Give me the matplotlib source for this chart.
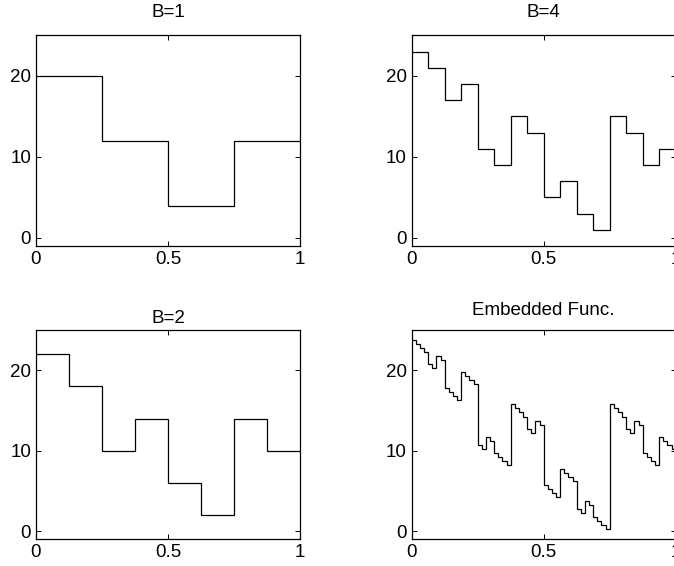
"""
Step functions for B=1, 2, 4 and the embedded function (2x2 grid, MATLAB look).
"""

import matplotlib
matplotlib.use("Agg")
import matplotlib.pyplot as plt
import numpy as np

plt.rcParams["font.family"] = ["Liberation Sans", "DejaVu Sans"]

# values per equal-width interval on [0, 1]
B1_VALUES = [20, 12, 4, 12]
B2_VALUES = [22, 18, 10, 14, 6, 2, 14, 10]
B4_VALUES = [23, 21, 17, 19, 11, 9, 15, 13, 5, 7, 3, 1, 15, 13, 9, 11]
EMBED_VALUES = [
    23.75, 23.25, 22.75, 22.25, 20.75, 20.25, 21.75, 21.25,
    17.75, 17.25, 16.75, 16.25, 19.75, 19.25, 18.75, 18.25,
    10.75, 10.25, 11.75, 11.25, 9.75, 9.25, 8.75, 8.25,
    15.75, 15.25, 14.75, 14.25, 12.75, 12.25, 13.75, 13.25,
    5.75, 5.25, 4.75, 4.25, 7.75, 7.25, 6.75, 6.25,
    2.75, 2.25, 3.75, 3.25, 1.75, 1.25, 0.75, 0.25,
    15.75, 15.25, 14.75, 14.25, 12.75, 12.25, 13.75, 13.25,
    9.75, 9.25, 8.75, 8.25, 11.75, 11.25, 10.75, 10.25,
]

TITLES = ["B=1", "B=4", "B=2", "Embedded Func."]
X_TICKS = [0, 0.5, 1]
X_TICKLABELS = ["0", "0.5", "1"]
Y_TICKS = [0, 10, 20]
Y_TICKLABELS = ["0", "10", "20"]

FS = 13.5


def style_axes(ax):
    ax.set_xlim(0, 1)
    ax.set_ylim(-1, 25)
    ax.set_xticks(X_TICKS)
    ax.set_xticklabels(X_TICKLABELS)
    ax.set_yticks(Y_TICKS)
    ax.set_yticklabels(Y_TICKLABELS)
    ax.tick_params(direction="in", length=3.5, width=0.7, top=True, right=True,
                   labelsize=FS, pad=3.5, colors="black")
    for sp in ax.spines.values():
        sp.set_linewidth(0.9)
        sp.set_color("black")


def main():
    fig = plt.figure(figsize=(6.74, 5.66), dpi=100)
    w, h = 0.3917, 0.3719
    boxes = [
        (0.0534, 0.5654, w, h),   # B=1
        (0.6108, 0.5654, w, h),   # B=4
        (0.0534, 0.0472, w, 0.3698),  # B=2
        (0.6108, 0.0472, w, 0.3698),  # embedded
    ]
    series = [B1_VALUES, B4_VALUES, B2_VALUES, EMBED_VALUES]
    pads = [13, 13, 5, 11]

    for box, vals, title, pad in zip(boxes, series, TITLES, pads):
        ax = fig.add_axes(box)
        edges = np.linspace(0, 1, len(vals) + 1)
        ax.stairs(vals, edges, baseline=None, color="black", linewidth=0.9)
        style_axes(ax)
        ax.set_title(title, fontsize=FS, pad=pad)

    fig.savefig("out.png", dpi=100)
    plt.close(fig)


if __name__ == "__main__":
    main()
